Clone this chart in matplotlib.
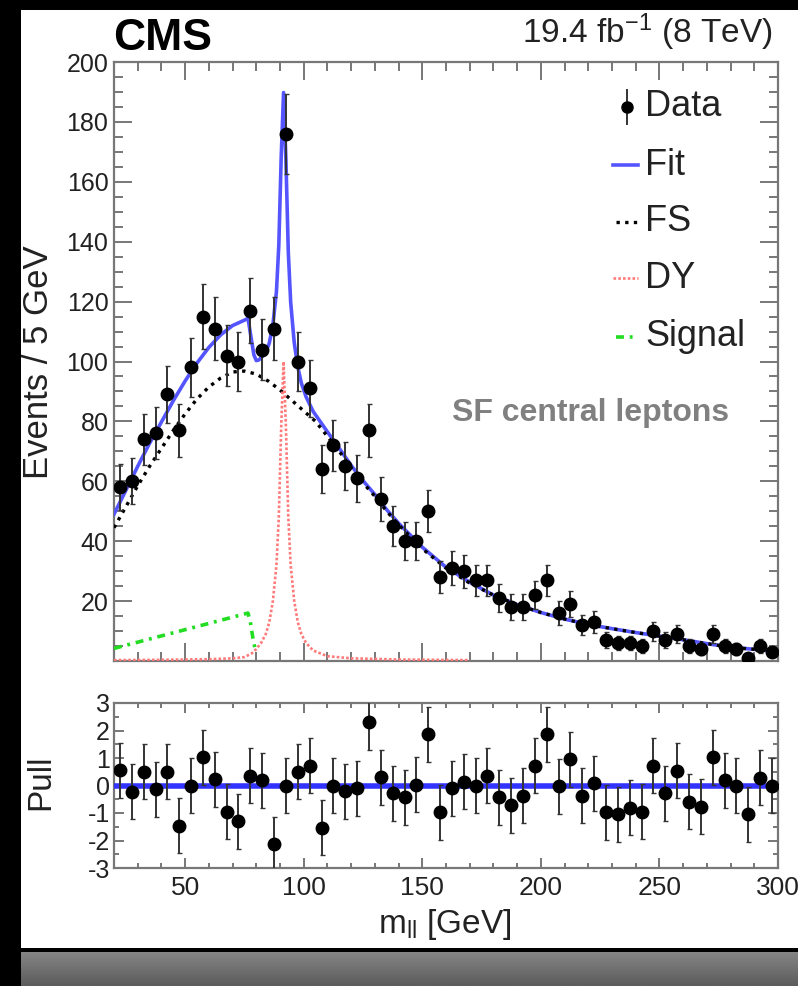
import numpy as np
import matplotlib
matplotlib.use("Agg")
import matplotlib.pyplot as plt
import matplotlib.patches as mpatches
from matplotlib.ticker import MultipleLocator, FuncFormatter

plt.rcParams["font.family"] = ["Liberation Sans", "DejaVu Sans"]
plt.rcParams["mathtext.fontset"] = "custom"
plt.rcParams["mathtext.rm"] = "Liberation Sans"
plt.rcParams["mathtext.it"] = "Liberation Sans:italic"
plt.rcParams["axes.unicode_minus"] = False

# ---- data ----
mass = np.arange(22.5, 300, 5)  # 5 GeV bin centres
events = [58, 60, 74, 76, 89, 77, 98, 115, 111, 102, 100, 117, 104, 111, 176,
          100, 91, 64, 72, 65, 61, 77, 54, 45, 40, 40, 50, 28, 31, 30, 27, 27,
          21, 18, 18, 22, 27, 16, 19, 12, 13, 7, 6, 6, 5, 10, 7, 9, 5, 4, 9,
          5, 4, 1, 5, 3]
pulls = [0.56, -0.22, 0.5, -0.14, 0.5, -1.47, 0.0, 1.02, 0.22, -0.95,
         -1.3, 0.35, 0.2, -2.13, 0.0, 0.5, 0.71, -1.53, 0.0, -0.2,
         -0.1, 2.3, 0.3, -0.28, -0.43, 0.02, 1.87, -0.98, -0.1, 0.14,
         0.0, 0.36, -0.43, -0.71, -0.38, 0.72, 1.87, -0.02, 0.96, -0.38,
         0.08, -0.98, -1.05, -0.8, -0.95, 0.71, -0.28, 0.53, -0.59, -0.77,
         1.02, 0.2, 0.0, -1.05, 0.28, 0.0]

fit_x = [20, 25, 30, 35, 40, 45, 50, 55, 60, 65, 70, 75, 76.5, 78, 79, 80, 81,
         82, 84, 85.5, 87, 88.5, 89.5, 90.5, 91.5, 92.5, 93.5, 94.5, 96, 97.5,
         99, 101, 104, 110, 115, 120, 125, 130, 135, 140, 145, 150, 160, 170,
         180, 190, 200, 210, 220, 230, 240, 250, 260, 270, 280, 290, 300]
fit_y = [49, 57, 65, 72.7, 79.8, 86.9, 93.5, 99.5, 104.7, 108.9, 112, 113.8,
         114.4, 107, 102.2, 100.3, 100.5, 101.2, 103, 106.2, 112.2, 123.3,
         138.8, 168.2, 189.8, 167.2, 136.5, 119.8, 106.3, 98.2, 92.8, 88.2,
         83.3, 76.5, 71, 65.3, 60.2, 55.6, 50.5, 46, 42, 38, 31.3, 26.3, 22,
         18.8, 16.2, 14, 12.2, 10.8, 9.5, 8.3, 7.1, 5.8, 4.6, 3.9, 3.2]

fs_x = [20, 25, 30, 35, 40, 45, 50, 55, 60, 65, 70, 75, 80, 85, 90, 95, 100,
        105, 110, 115, 120, 125, 130, 135, 140, 145, 150, 160, 170, 180, 190,
        200, 210, 220, 230, 240, 250, 260, 270, 280, 290, 300]
fs_y = [44.5, 51.5, 58.5, 65, 71, 77, 82.5, 87.5, 91.5, 94.5, 96.5, 96.8,
        95.8, 93.5, 90.5, 87, 83.5, 80, 75, 70, 64.5, 59.5, 55, 50, 45.5,
        41.5, 37.5, 31, 26, 22, 18.8, 16.2, 14, 12.2, 10.8, 9.5, 8.3, 7.1,
        5.8, 4.6, 3.9, 3.2]

dy_x = [20, 40, 60, 70, 75, 78, 80, 82, 84, 85.5, 87, 88.5, 89.5, 90.5, 91.5,
        92.5, 93.5, 94.5, 96, 97.5, 99, 101, 104, 110, 120, 140, 170]
dy_y = [0.3, 0.4, 0.6, 0.9, 1.3, 2.5, 4, 6, 9, 13, 20, 32, 48, 78, 100, 78,
        48, 32, 20, 13, 9, 6, 3.5, 1.6, 0.9, 0.5, 0.3]

sig_x = [20, 76.5, 77.5, 78.5, 79.5]
sig_y = [4.2, 16, 13, 8, 4]

BLUE = "#5555ff"
RED = "#ff7a7a"
GREEN = "#22dd22"
FRAME = "#777777"
TXT = "#222222"
DY_LS = (0, (1, 0.8))
SIG_LS = (0, (2.2, 1.6, 0.8, 1.6))
FS_LS = (0, (1, 1.6))

W, H = 798, 986
fig = plt.figure(figsize=(W / 100, H / 100), dpi=100)
fig.patch.set_facecolor("black")

# white page + grey reflection strip (screenshot look)
fig.patches.append(mpatches.Rectangle((21 / W, 1 - 948 / H), 1 - 21 / W, 938 / H,
                                      transform=fig.transFigure, facecolor="white",
                                      edgecolor="none", zorder=-5))
grad = fig.add_axes([21 / W, 0, 1 - 21 / W, 34 / H])
grad.imshow(np.linspace(0.52, 0.36, 50)[:, None], cmap="gray", vmin=0, vmax=1,
            aspect="auto", extent=(0, 1, 0, 1))
grad.axis("off")


def px_axes(l, t, r, b):
    return fig.add_axes([l / W, 1 - b / H, (r - l) / W, (b - t) / H])


def style(ax):
    for s in ax.spines.values():
        s.set_color(FRAME)
        s.set_linewidth(1.6)
    ax.tick_params(which="both", direction="in", top=True, right=True,
                   color=FRAME, width=1.4, labelcolor=TXT)


ax = px_axes(114, 62, 778, 661)
ax.set_facecolor("none")
style(ax)
ax.tick_params(which="major", length=13)
ax.tick_params(which="minor", length=6.5)
ax.tick_params(axis="y", labelsize=18, pad=4)
ax.tick_params(axis="x", labelbottom=False)
ax.set_xlim(20, 300)
ax.set_ylim(0, 200)
ax.xaxis.set_major_locator(MultipleLocator(50))
ax.xaxis.set_minor_locator(MultipleLocator(10))
ax.yaxis.set_major_locator(MultipleLocator(20))
ax.yaxis.set_minor_locator(MultipleLocator(5))
ax.yaxis.set_major_formatter(FuncFormatter(lambda v, p: "" if v == 0 else f"{v:.0f}"))

ax.plot(fit_x, fit_y, color=BLUE, lw=2.6, zorder=3)
ax.plot(fs_x, fs_y, color="black", lw=2.4, ls=FS_LS, zorder=4)
ax.plot(dy_x, dy_y, color=RED, lw=1.9, ls=DY_LS, zorder=4)
ax.plot(sig_x, sig_y, color=GREEN, lw=2.6, ls=SIG_LS, zorder=4)
ax.errorbar(mass, events, yerr=np.sqrt(events), fmt="o", color="black", ms=9,
            ecolor="#333333", elinewidth=1.4, capsize=1.8, zorder=5)

# legend drawn by hand in axes fraction
tr = ax.transAxes
rows = [("Data", 0.925), ("Fit", 0.828), ("FS", 0.733), ("DY", 0.639), ("Signal", 0.541)]
hx0, hx1, tx = 0.752, 0.789, 0.80
ax.plot([0.7726, 0.7726], [0.925 - 0.028, 0.925 + 0.028], color="#333333", lw=1.4, transform=tr)
ax.plot([0.7726], [0.925], "o", color="black", ms=8, transform=tr)
ax.plot([hx0, hx1], [0.828] * 2, color=BLUE, lw=2.6, transform=tr)
ax.plot([hx0 + 0.004, hx1], [0.733] * 2, color="black", lw=2.4, ls=FS_LS, transform=tr)
ax.plot([hx0, hx1], [0.639] * 2, color=RED, lw=1.9, ls=DY_LS, transform=tr)
ax.plot([hx0 + 0.004, hx1], [0.541] * 2, color=GREEN, lw=2.6, ls=SIG_LS, transform=tr)
for lab, y in rows:
    ax.text(tx, y, lab, transform=tr, ha="left", va="center", fontsize=26, color=TXT)

ax.text(0.718, 0.414, "SF central leptons", transform=tr, ha="center", va="center",
        fontsize=23, fontweight="bold", color="#808080")

# pull panel
pax = px_axes(114, 703, 778, 868)
pax.set_facecolor("none")
style(pax)
pax.tick_params(which="major", length=7)
pax.tick_params(which="minor", length=3.5)
pax.tick_params(axis="y", labelsize=18, pad=3)
pax.tick_params(axis="x", labelsize=19, pad=6)
pax.set_xlim(20, 300)
pax.set_ylim(-3, 3)
pax.xaxis.set_major_locator(MultipleLocator(50))
pax.xaxis.set_minor_locator(MultipleLocator(10))
pax.yaxis.set_major_locator(MultipleLocator(1))
pax.yaxis.set_minor_locator(MultipleLocator(0.5))
pax.axhline(0, color="#3333ff", lw=4, zorder=3)
pax.errorbar(mass, pulls, yerr=np.ones(len(pulls)), fmt="o", color="black", ms=9,
             ecolor="#333333", elinewidth=1.4, capsize=1.8, zorder=5)

# labels
fig.text(113 / W, 1 - 50 / H, "CMS", fontsize=32, fontweight="bold", color="black",
         ha="left", va="baseline")
fig.text(772 / W, 1 - 43 / H, r"19.4 fb$^{\mathregular{-1}}$ (8 TeV)", fontsize=24,
         color=TXT, ha="right", va="baseline")
fig.text(39 / W, 1 - 362 / H, "Events / 5 GeV", rotation=90, fontsize=25, color=TXT,
         ha="center", va="center")
fig.text(41 / W, 1 - 782 / H, "Pull", rotation=90, fontsize=24, color=TXT,
         ha="center", va="center")
fig.text(445 / W, 1 - 925 / H, r"m$_{\mathregular{ll}}$ [GeV]", fontsize=24, color=TXT,
         ha="center", va="center")

fig.savefig("out.png", dpi=100, facecolor=fig.get_facecolor())
